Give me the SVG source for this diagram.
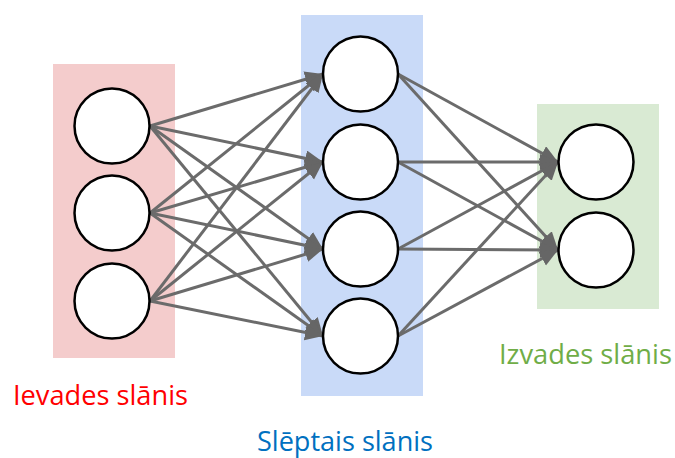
<svg xmlns="http://www.w3.org/2000/svg" width="675" height="458" viewBox="0 0 675 458">
  <style>
    .layer-in { fill: #f4cccc; }
    .layer-hid { fill: #c9daf8; }
    .layer-out { fill: #d9ead3; }
    .neuron { fill: #ffffff; stroke: #000000; stroke-width: 2.5; }
    .edge { stroke: #6b6b6b; stroke-width: 3; fill: none; marker-end: url(#arrow); }
    .label { font-family: "Open Sans", "Noto Sans", "Liberation Sans", sans-serif; font-size: 28px; }
  </style>
  <defs>
    <marker id="arrow" markerUnits="userSpaceOnUse" markerWidth="20" markerHeight="18" refX="18" refY="8" orient="auto">
      <path d="M0,0 L18,8 L0,16 Z" fill="#666666"/>
    </marker>
  </defs>

  <rect width="675" height="458" fill="#ffffff"/>

  <!-- layer backgrounds -->
  <rect class="layer-in" x="53" y="64" width="122" height="294"/>
  <rect class="layer-hid" x="301" y="15" width="122" height="381"/>
  <rect class="layer-out" x="537" y="104" width="122" height="205"/>

  <!-- connections -->
  <g id="connectors">
    <line class="edge" x1="150" y1="126" x2="323" y2="74"/>
    <line class="edge" x1="150" y1="126" x2="323" y2="162"/>
    <line class="edge" x1="150" y1="126" x2="323" y2="249"/>
    <line class="edge" x1="150" y1="126" x2="323" y2="336"/>
    <line class="edge" x1="150" y1="213" x2="323" y2="74"/>
    <line class="edge" x1="150" y1="213" x2="323" y2="162"/>
    <line class="edge" x1="150" y1="213" x2="323" y2="249"/>
    <line class="edge" x1="150" y1="213" x2="323" y2="336"/>
    <line class="edge" x1="150" y1="301" x2="323" y2="74"/>
    <line class="edge" x1="150" y1="301" x2="323" y2="162"/>
    <line class="edge" x1="150" y1="301" x2="323" y2="249"/>
    <line class="edge" x1="150" y1="301" x2="323" y2="336"/>

    <line class="edge" x1="398" y1="74" x2="558" y2="162"/>
    <line class="edge" x1="398" y1="74" x2="558" y2="250"/>
    <line class="edge" x1="398" y1="162" x2="558" y2="162"/>
    <line class="edge" x1="398" y1="162" x2="558" y2="250"/>
    <line class="edge" x1="398" y1="249" x2="558" y2="162"/>
    <line class="edge" x1="398" y1="249" x2="558" y2="250"/>
    <line class="edge" x1="398" y1="336" x2="558" y2="162"/>
    <line class="edge" x1="398" y1="336" x2="558" y2="250"/>
  </g>

  <!-- input layer -->
  <g id="in1"><circle class="neuron" cx="112" cy="126" r="37.5"/></g>
  <g id="in2"><circle class="neuron" cx="112" cy="213" r="37.5"/></g>
  <g id="in3"><circle class="neuron" cx="112" cy="301" r="37.5"/></g>

  <!-- hidden layer -->
  <g id="hid1"><circle class="neuron" cx="360.5" cy="74" r="37.5"/></g>
  <g id="hid2"><circle class="neuron" cx="360.5" cy="162" r="37.5"/></g>
  <g id="hid3"><circle class="neuron" cx="360.5" cy="249" r="37.5"/></g>
  <g id="hid4"><circle class="neuron" cx="360.5" cy="336" r="37.5"/></g>

  <!-- output layer -->
  <g id="out1"><circle class="neuron" cx="596" cy="162" r="37.5"/></g>
  <g id="out2"><circle class="neuron" cx="596" cy="250" r="37.5"/></g>

  <!-- layer captions -->
  <text class="label" x="13" y="405" fill="#ff0000" textLength="175" lengthAdjust="spacingAndGlyphs">Ievades slānis</text>
  <text class="label" x="257" y="451" fill="#0070c0" textLength="176" lengthAdjust="spacingAndGlyphs">Slēptais slānis</text>
  <text class="label" x="499" y="364" fill="#70ad47" textLength="173" lengthAdjust="spacingAndGlyphs">Izvades slānis</text>
</svg>
